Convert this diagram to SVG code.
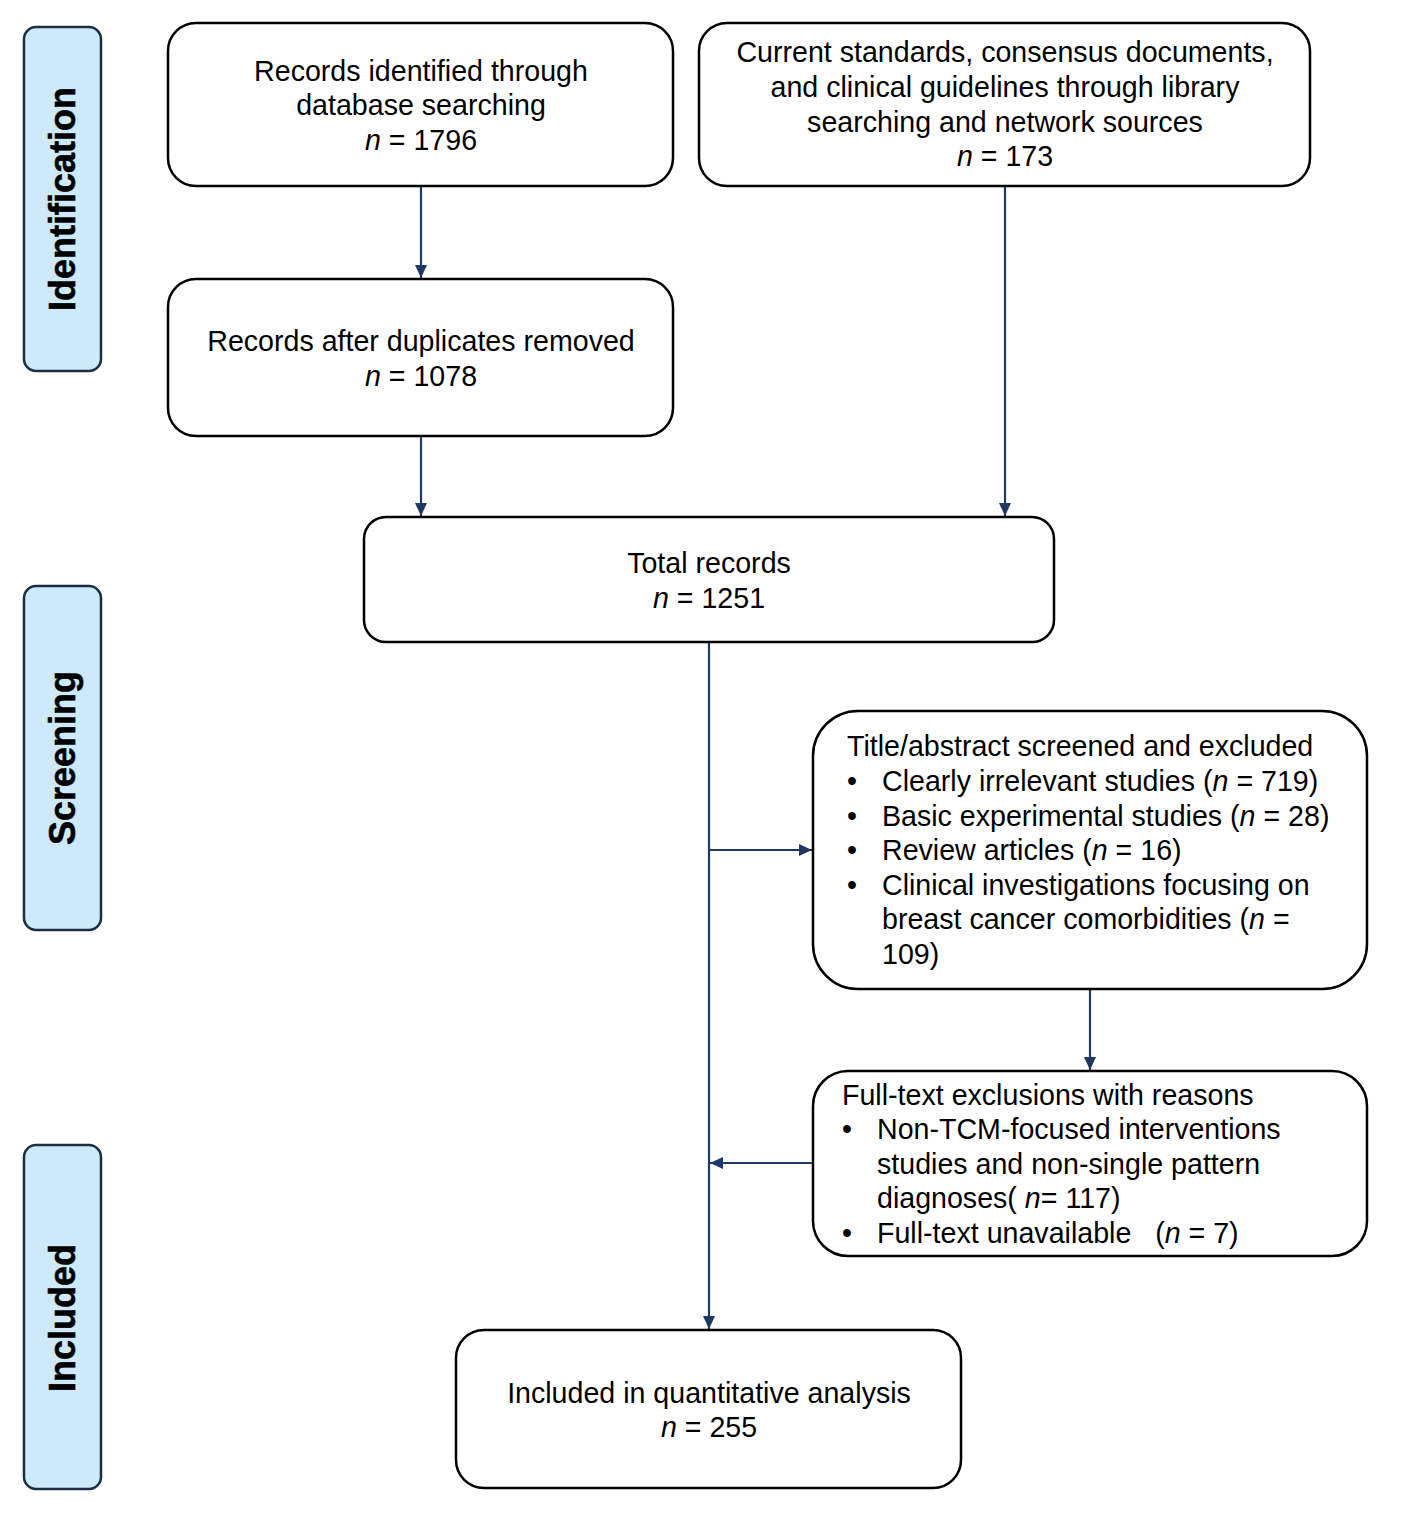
<svg xmlns="http://www.w3.org/2000/svg" width="1417" height="1516" viewBox="0 0 1417 1516">
<style>
.bg{fill:#ffffff}
.side{fill:#cde9fa;stroke:#1c2e45;stroke-width:2.5}
.box{fill:#ffffff;stroke:#000000;stroke-width:2.5}
.t{font-family:"Liberation Sans",Arial,sans-serif;font-size:28.6px;fill:#000000}
.c{text-anchor:middle}
.lab{font-family:"Liberation Sans",Arial,sans-serif;font-size:36px;font-weight:bold;fill:#000000;text-anchor:middle;stroke:#000000;stroke-width:0.6}
.con{stroke:#1f3864;stroke-width:2.2;fill:none}
</style>
<defs>
<marker id="ah" viewBox="0 0 13 12" refX="13" refY="6" markerWidth="13" markerHeight="12" markerUnits="userSpaceOnUse" orient="auto">
<path d="M0,0 L13,6 L0,12 z" fill="#1f3864"/>
</marker>
</defs>
<rect class="bg" x="0" y="0" width="1417" height="1516"/>

<g id="stage-identification">
<rect class="side" x="24" y="27" width="77" height="344" rx="12"/>
<text class="lab" transform="translate(75,199) rotate(-90)">Identification</text>
</g>
<g id="stage-screening">
<rect class="side" x="24" y="586" width="77" height="344" rx="12"/>
<text class="lab" transform="translate(75,758) rotate(-90)">Screening</text>
</g>
<g id="stage-included">
<rect class="side" x="24" y="1145" width="77" height="344" rx="12"/>
<text class="lab" transform="translate(75,1318) rotate(-90)">Included</text>
</g>

<g id="connectors">
<line class="con" x1="421" y1="186" x2="421" y2="278" marker-end="url(#ah)"/>
<line class="con" x1="421" y1="436" x2="421" y2="516" marker-end="url(#ah)"/>
<line class="con" x1="1005" y1="186" x2="1005" y2="516" marker-end="url(#ah)"/>
<line class="con" x1="709" y1="642" x2="709" y2="1329" marker-end="url(#ah)"/>
<line class="con" x1="709" y1="850" x2="812" y2="850" marker-end="url(#ah)"/>
<line class="con" x1="1090" y1="989" x2="1090" y2="1070" marker-end="url(#ah)"/>
<line class="con" x1="813" y1="1163" x2="710" y2="1163" marker-end="url(#ah)"/>
</g>

<g id="n1">
<rect class="box" x="168" y="23" width="505" height="163" rx="28"/>
<text class="t c" x="421" y="81">Records identified through</text>
<text class="t c" x="421" y="115">database searching</text>
<text class="t c" x="421" y="150"><tspan font-style="italic">n</tspan> = 1796</text>
</g>
<g id="n2">
<rect class="box" x="699" y="23" width="611" height="163" rx="28"/>
<text class="t c" x="1005" y="62">Current standards, consensus documents,</text>
<text class="t c" x="1005" y="97">and clinical guidelines through library</text>
<text class="t c" x="1005" y="132">searching and network sources</text>
<text class="t c" x="1005" y="166"><tspan font-style="italic">n</tspan> = 173</text>
</g>
<g id="n3">
<rect class="box" x="168" y="279" width="505" height="157" rx="28"/>
<text class="t c" x="421" y="351">Records after duplicates removed</text>
<text class="t c" x="421" y="386"><tspan font-style="italic">n</tspan> = 1078</text>
</g>
<g id="n4">
<rect class="box" x="364" y="517" width="690" height="125" rx="22"/>
<text class="t c" x="709" y="573">Total records</text>
<text class="t c" x="709" y="608"><tspan font-style="italic">n</tspan> = 1251</text>
</g>
<g id="n5">
<rect class="box" x="813" y="711" width="554" height="278" rx="45"/>
<text class="t" x="847" y="756">Title/abstract screened and excluded</text>
<text class="t" x="847" y="791">•</text><text class="t" x="882" y="791">Clearly irrelevant studies (<tspan font-style="italic">n</tspan> = 719)</text>
<text class="t" x="847" y="826">•</text><text class="t" x="882" y="826">Basic experimental studies (<tspan font-style="italic">n</tspan> = 28)</text>
<text class="t" x="847" y="860">•</text><text class="t" x="882" y="860">Review articles (<tspan font-style="italic">n</tspan> = 16)</text>
<text class="t" x="847" y="895">•</text><text class="t" x="882" y="895">Clinical investigations focusing on</text>
<text class="t" x="882" y="929">breast cancer comorbidities (<tspan font-style="italic">n</tspan> =</text>
<text class="t" x="882" y="964">109)</text>
</g>
<g id="n6">
<rect class="box" x="813" y="1071" width="554" height="185" rx="35"/>
<text class="t" x="842" y="1105">Full-text exclusions with reasons</text>
<text class="t" x="842" y="1139">•</text><text class="t" x="877" y="1139">Non-TCM-focused interventions</text>
<text class="t" x="877" y="1174">studies and non-single pattern</text>
<text class="t" x="877" y="1208">diagnoses( <tspan font-style="italic">n</tspan>= 117)</text>
<text class="t" x="842" y="1243">•</text><text class="t" x="877" y="1243" xml:space="preserve">Full-text unavailable   (<tspan font-style="italic">n</tspan> = 7)</text>
</g>
<g id="n7">
<rect class="box" x="456" y="1330" width="505" height="158" rx="28"/>
<text class="t c" x="709" y="1403">Included in quantitative analysis</text>
<text class="t c" x="709" y="1437"><tspan font-style="italic">n</tspan> = 255</text>
</g>
</svg>
